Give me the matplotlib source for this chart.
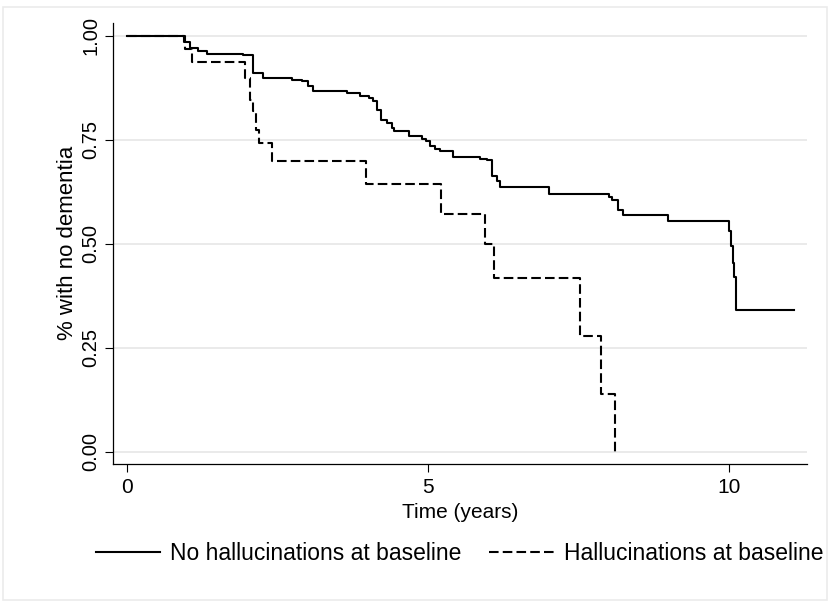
import matplotlib
matplotlib.use("Agg")
import matplotlib.pyplot as plt
from matplotlib.patches import Rectangle

plt.rcParams['font.family'] = ['Liberation Sans', 'DejaVu Sans']

# Kaplan-Meier steps (time in years, survival)
no_hall_t = [0, 0.95, 1.05, 1.18, 1.33, 1.93, 2.10, 2.26, 2.74, 2.91, 3.01, 3.09,
             3.65, 3.87, 4.02, 4.09, 4.15, 4.23, 4.32, 4.40, 4.43, 4.69, 4.90,
             4.97, 5.04, 5.12, 5.20, 5.42, 5.87, 5.98, 6.06, 6.14, 6.19, 7.01,
             8.00, 8.05, 8.16, 8.24, 8.99, 10.00, 10.03, 10.06, 10.08, 10.12, 11.07]
no_hall_s = [1.00, 0.985, 0.971, 0.962, 0.956, 0.954, 0.911, 0.897, 0.893, 0.890, 0.878, 0.866,
             0.862, 0.856, 0.850, 0.842, 0.822, 0.798, 0.790, 0.778, 0.772, 0.760, 0.752,
             0.746, 0.736, 0.728, 0.722, 0.708, 0.704, 0.702, 0.662, 0.650, 0.636, 0.619,
             0.612, 0.606, 0.582, 0.568, 0.554, 0.530, 0.494, 0.454, 0.420, 0.341, 0.341]

hall_t = [0, 0.97, 1.08, 1.96, 2.04, 2.09, 2.15, 2.19, 2.41, 3.97, 5.22, 5.95,
          6.10, 7.53, 7.87, 8.10]
hall_s = [1.00, 0.968, 0.936, 0.898, 0.846, 0.818, 0.774, 0.742, 0.700, 0.643, 0.571, 0.499,
          0.417, 0.279, 0.139, 0.0]

labels = ["No hallucinations at baseline", "Hallucinations at baseline"]
yticks = [0, 0.25, 0.5, 0.75, 1.0]
xticks = [0, 5, 10]

fig = plt.figure(figsize=(8.3, 6.04), dpi=100)
ax = fig.add_axes([0.1365, 0.2318, 0.8355, 0.7306])

# outer light frame like the Stata graph region
fig.patches.append(Rectangle((3 / 830, 4 / 604), 824 / 830, 593 / 604, transform=fig.transFigure,
                             fill=False, edgecolor='#ebebeb', linewidth=1.2))

ax.step(no_hall_t, no_hall_s, where='post', color='black', linewidth=1.5, label=labels[0])
l2, = ax.step(hall_t, hall_s, where='post', color='black', linewidth=1.5, label=labels[1])
l2.set_dashes((4.6, 2.0))

ax.set_xlim(-0.222, 11.29)
ax.set_ylim(-0.029, 1.031)
ax.set_xticks(xticks)
ax.set_yticks(yticks)
ax.set_yticklabels(["%.2f" % v for v in yticks], rotation=90, va='center')
ax.yaxis.grid(True, color='#e8e8e8', linewidth=1.3)
ax.set_axisbelow(True)
ax.tick_params(axis='both', length=5.5, width=0.8)
ax.tick_params(axis='x', labelsize=15, pad=4.5)
ax.tick_params(axis='y', labelsize=14.5, pad=3.6)

for s in ['top', 'right']:
    ax.spines[s].set_visible(False)
for s in ['left', 'bottom']:
    ax.spines[s].set_linewidth(0.9)

ax.set_xlabel("Time (years)", fontsize=15, labelpad=4.5)
ax.set_ylabel("% with no dementia", fontsize=16, labelpad=2.5)

fig.legend(loc='center', bbox_to_anchor=(0.5536, 0.0844), ncol=2, frameon=False, fontsize=16.5,
           handlelength=2.8, handletextpad=0.44, columnspacing=1.22)

fig.savefig("out.png", dpi=100)
